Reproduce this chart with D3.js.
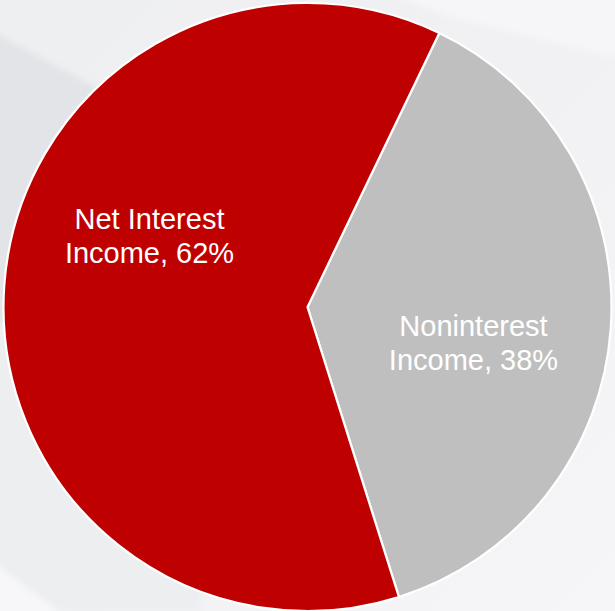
<!DOCTYPE html>
<html>
<head>
<meta charset="utf-8">
<script src="https://cdn.jsdelivr.net/npm/d3@7/dist/d3.min.js"></script>
<style>
  html, body { margin: 0; padding: 0; background: #f1f1f3; }
  svg { display: block; }
</style>
</head>
<body>
<svg id="chart" width="615" height="611"></svg>
<script>
// Revenue mix
const categories = ["Noninterest Income", "Net Interest Income"];
const labelLines = [["Noninterest", "Income, 38%"], ["Net Interest", "Income, 62%"]];
const shares = [38, 62];
const sliceColors = ["#bfbfbf", "#be0000"];

const W = 615, H = 611;
const cx = 307.5, cy = 307, radius = 304;

const svg = d3.select("#chart");

// soft backdrop with faint diagonal facets
const defs = svg.append("defs");
const bg = defs.append("linearGradient").attr("id", "bg")
  .attr("x1", "0").attr("y1", "0").attr("x2", "1").attr("y2", "1");
bg.append("stop").attr("offset", "0%").attr("stop-color", "#eeeff1");
bg.append("stop").attr("offset", "50%").attr("stop-color", "#f1f1f3");
bg.append("stop").attr("offset", "100%").attr("stop-color", "#f6f6f8");
defs.append("filter").attr("id", "soft")
  .append("feGaussianBlur").attr("stdDeviation", 3);

svg.append("rect").attr("width", W).attr("height", H).attr("fill", "url(#bg)");
const facets = svg.append("g").attr("filter", "url(#soft)");
facets.append("path").attr("d", "M-10,30 L110,95 L250,170 L-10,330 Z").attr("fill", "#e3e4e7");
facets.append("path").attr("d", "M-10,330 L250,170 L200,611 L-10,611 Z").attr("fill", "#eceef0");
facets.append("path").attr("d", "M380,-10 L625,-10 L625,60 L460,20 Z").attr("fill", "#f6f6f8");
facets.append("path").attr("d", "M-10,560 L70,620 L-10,620 Z").attr("fill", "#f7f7f9");

const pie = d3.pie()
  .sort(null)
  .value(d => d)
  .startAngle(25.7 * Math.PI / 180)
  .endAngle((25.7 + 360) * Math.PI / 180);

const arc = d3.arc().innerRadius(0).outerRadius(radius);
const arcs = pie(shares);

const g = svg.append("g").attr("transform", `translate(${cx},${cy})`);

g.selectAll("path.slice")
  .data(arcs)
  .join("path")
  .attr("class", "slice")
  .attr("d", arc)
  .attr("fill", (d, i) => sliceColors[i])
  .attr("stroke", "#ffffff")
  .attr("stroke-width", 2.2)
  .attr("stroke-linejoin", "miter");

// label anchors relative to the pie centre (text block centre x, first baseline y)
const labelAnchor = [
  { dx: 166, dy: 29 },
  { dx: -158, dy: -78 }
];
const lineGap = 34;

const labels = g.selectAll("text.lbl")
  .data(arcs)
  .join("text")
  .attr("class", "lbl")
  .attr("text-anchor", "middle")
  .attr("fill", "#ffffff")
  .attr("font-family", "'Liberation Sans', Arial, sans-serif")
  .attr("font-size", 29);

labels.each(function (d, i) {
  const t = d3.select(this);
  labelLines[i].forEach((line, k) => {
    t.append("tspan")
      .attr("x", labelAnchor[i].dx)
      .attr("y", labelAnchor[i].dy + k * lineGap)
      .text(line);
  });
});
</script>
</body>
</html>
